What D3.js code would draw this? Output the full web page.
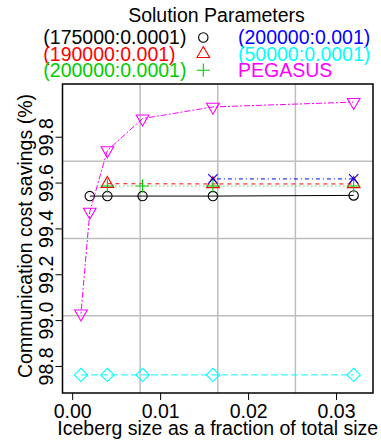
<!DOCTYPE html>
<html>
<head>
<meta charset="utf-8">
<script src="https://cdn.jsdelivr.net/npm/d3@7"></script>
<style>
  body { margin: 0; background: #fff; }
  svg text { font-family: "Liberation Sans", Arial, sans-serif; font-size: 19.5px; }
</style>
</head>
<body>
<svg id="chart" width="381" height="445"></svg>
<script>
// series (iceberg fraction -> savings %)
const seriesNames = ['(175000:0.0001)', '(190000:0.001)', '(200000:0.0001)',
  '(200000:0.001)', '(50000:0.0001)', 'PEGASUS']

const xBlack = [0.002, 0.004, 0.008, 0.016, 0.032]
const yBlack = [99.541, 99.541, 99.541, 99.541, 99.544]
const xRed = [0.004, 0.016, 0.032]
const yRed = [99.595, 99.594, 99.594]
const xGreen = [0.004, 0.008, 0.016, 0.032]
const yGreen = [99.585, 99.585, 99.585, 99.585]
const xBlue = [0.016, 0.032]
const yBlue = [99.616, 99.616]
const xCyan = [0.001, 0.004, 0.008, 0.016, 0.032]
const yCyan = [98.761, 98.761, 98.761, 98.761, 98.761]
const xMagenta = [0.001, 0.002, 0.004, 0.008, 0.016, 0.032]
const yMagenta = [99.028, 99.472, 99.74, 99.879, 99.93, 99.951]

const xTicks = [0, 0.01, 0.02, 0.03]
const yTicks = [98.8, 99.0, 99.2, 99.4, 99.6, 99.8]

const seriesX = [xBlack, xRed, xGreen, xBlue, xCyan, xMagenta]
const seriesY = [yBlack, yRed, yGreen, yBlue, yCyan, yMagenta]

// R default palette, pch 1..6, lty 1..6
const colors = ['#000000', '#FF0000', '#00CD00', '#0000FF', '#00FFFF', '#FF00FF']
const shapes = ['circle', 'triangle', 'plus', 'cross', 'diamond', 'triangleDown']
const dashes = [null, '4,4', '1,3', '1,3,4,3', '7,3', '2,2,6,2']

const box = { left: 62.5, right: 373, top: 84, bottom: 393 }

const svg = d3.select('#chart')

const x = d3.scaleLinear().domain([-0.0011, 0.0342]).range([box.left, box.right])
const y = d3.scaleLinear().domain([98.682, 100.03]).range([box.bottom, box.top])

const R = 4.7
function marker(shape, cx, cy) {
  const p = d3.path()
  if (shape === 'circle') {
    p.moveTo(cx + R, cy)
    p.arc(cx, cy, R, 0, 2 * Math.PI)
  } else if (shape === 'triangle' || shape === 'triangleDown') {
    const r = R * 1.555
    const s = shape === 'triangle' ? 1 : -1
    p.moveTo(cx, cy - s * r)
    p.lineTo(cx + r * 0.866, cy + s * r / 2)
    p.lineTo(cx - r * 0.866, cy + s * r / 2)
    p.closePath()
  } else if (shape === 'plus') {
    const a = R * Math.SQRT2
    p.moveTo(cx - a, cy); p.lineTo(cx + a, cy)
    p.moveTo(cx, cy - a); p.lineTo(cx, cy + a)
  } else if (shape === 'cross') {
    p.moveTo(cx - R, cy - R); p.lineTo(cx + R, cy + R)
    p.moveTo(cx - R, cy + R); p.lineTo(cx + R, cy - R)
  } else if (shape === 'diamond') {
    const a = R * Math.SQRT2
    p.moveTo(cx, cy - a); p.lineTo(cx + a, cy)
    p.lineTo(cx, cy + a); p.lineTo(cx - a, cy)
    p.closePath()
  }
  return p.toString()
}

// grid: plot region split in 4 each way
const xd = x.domain(), yd = y.domain()
const gridX = d3.range(1, 4).map(i => xd[0] + i * (xd[1] - xd[0]) / 4)
const gridY = d3.range(1, 4).map(i => yd[0] + i * (yd[1] - yd[0]) / 4)

const grid = svg.append('g').attr('stroke', '#bebebe').attr('stroke-width', 1.5)
grid.selectAll('.gx').data(gridX).enter().append('line')
  .attr('x1', d => x(d)).attr('x2', d => x(d))
  .attr('y1', box.top).attr('y2', box.bottom)
grid.selectAll('.gy').data(gridY).enter().append('line')
  .attr('y1', d => y(d)).attr('y2', d => y(d))
  .attr('x1', box.left).attr('x2', box.right)

// series
const line = d3.line().x(d => x(d[0])).y(d => y(d[1]))
seriesX.forEach((xs, i) => {
  const pts = xs.map((v, j) => [v, seriesY[i][j]])
  const g = svg.append('g')
  g.append('path')
    .attr('d', line(pts))
    .attr('fill', 'none')
    .attr('stroke', colors[i])
    .attr('stroke-width', 1)
    .attr('stroke-dasharray', dashes[i])
  g.selectAll('.m').data(pts).enter().append('path')
    .attr('d', d => marker(shapes[i], x(d[0]), y(d[1])))
    .attr('fill', 'none')
    .attr('stroke', colors[i])
    .attr('stroke-width', 1.1)
})

// frame
svg.append('rect')
  .attr('x', box.left).attr('y', box.top)
  .attr('width', box.right - box.left).attr('height', box.bottom - box.top)
  .attr('fill', 'none').attr('stroke', '#000').attr('stroke-width', 1.5)

// axes
const xAxis = svg.append('g')
  .attr('transform', `translate(0,${box.bottom})`)
  .call(d3.axisBottom(x).tickValues(xTicks).tickFormat(d3.format('.2f')).tickSize(7).tickSizeOuter(0))
xAxis.select('.domain').remove()
xAxis.selectAll('text')
  .attr('y', 24.5).attr('dy', null)
  .attr('fill', '#000')
  .style('font-size', '19.5px').style('font-family', '"Liberation Sans", Arial, sans-serif')

const yAxis = svg.append('g')
  .attr('transform', `translate(${box.left},0)`)
  .call(d3.axisLeft(y).tickValues(yTicks).tickFormat(d3.format('.1f')).tickSize(7).tickSizeOuter(0))
yAxis.select('.domain').remove()
yAxis.selectAll('text')
  .attr('transform', 'rotate(-90)')
  .attr('x', 0).attr('y', -9.8).attr('dy', null)
  .attr('text-anchor', 'middle')
  .attr('fill', '#000')
  .style('font-size', '19.5px').style('font-family', '"Liberation Sans", Arial, sans-serif')

// axis titles
svg.append('text')
  .attr('x', (box.left + box.right) / 2).attr('y', 435)
  .attr('text-anchor', 'middle')
  .text('Iceberg size as a fraction of total size')

svg.append('text')
  .attr('transform', `translate(32,236) rotate(-90)`)
  .attr('text-anchor', 'middle')
  .text('Communication cost savings (%)')

// legend
svg.append('text')
  .attr('x', 216.5).attr('y', 21.7)
  .attr('text-anchor', 'middle')
  .text('Solution Parameters')

const colX = [43.3, 238]
const rowY = [44.3, 60.6, 77]
const legend = svg.append('g')
seriesNames.forEach((name, i) => {
  const c = Math.floor(i / 3), r = i % 3
  legend.append('text')
    .attr('x', colX[c]).attr('y', rowY[r])
    .attr('fill', colors[i])
    .text(name)
  legend.append('path')
    .attr('d', marker(shapes[i], colX[c] + 160, rowY[r] - 6.8))
    .attr('fill', 'none')
    .attr('stroke', colors[i])
    .attr('stroke-width', 1.1)
})
</script>
</body>
</html>
